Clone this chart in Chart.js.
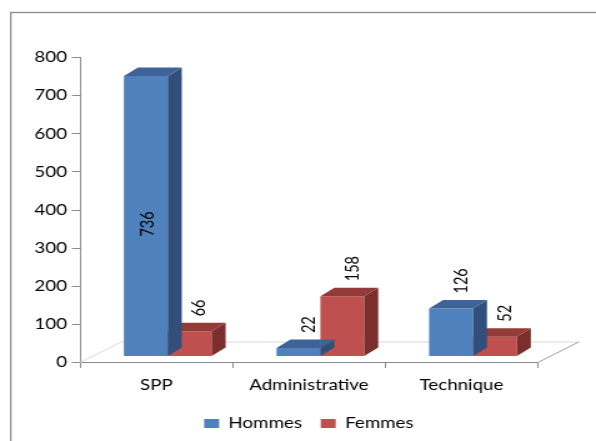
<!DOCTYPE html>
<html><head><meta charset="utf-8">
<script src="https://cdn.jsdelivr.net/npm/chart.js@4.4.1/dist/chart.umd.min.js"></script>
<style>html,body{margin:0;padding:0;background:#fff;}canvas{display:block;}</style>
</head><body>
<canvas id="c" width="477" height="441" style="width:596px;height:441px"></canvas>
<script>
// ---- data ----
const categories = ['SPP', 'Administrative', 'Technique'];
const seriesNames = ['Hommes', 'Femmes'];
const hommes = [736, 22, 126];
const femmes = [66, 158, 52];
const yMin = 0, yMax = 800, yStep = 100;

// ---- styling ----
const FONT = 'Lato';
const frontColors = ['#4F81BD', '#C0504D'];
const topColors = ['#3E6497', '#943A38'];
const sideColors = ['#314F7A', '#7A2E2D'];
// 3D offsets (canvas units; canvas is stretched 1.25x horizontally)
const DX0 = 9.2, DY0 = -6;      // bars sit a little behind the front axis plane
const BDX = 11.2, BDY = -8.5;   // bar depth
const FDX = 32.8, FDY = -20.5;  // floor depth

const threeD = {
  id: 'threeD',
  beforeDraw(chart) {
    const ctx = chart.ctx;
    ctx.save();
    ctx.strokeStyle = '#8c8c8c';
    ctx.lineWidth = 1.3;
    ctx.strokeRect(8.6, 12.5, 700, 700);
    ctx.restore();
  },
  beforeDatasetsDraw(chart) {
    const ctx = chart.ctx, a = chart.chartArea;
    ctx.save();
    ctx.lineWidth = 1;
    ctx.strokeStyle = '#d9d9d9';
    ctx.beginPath();
    ctx.moveTo(a.left, a.bottom);
    ctx.lineTo(a.left + FDX, a.bottom + FDY);
    ctx.lineTo(a.right + FDX, a.bottom + FDY);
    ctx.stroke();
    ctx.strokeStyle = '#a0a0a0';
    ctx.beginPath();
    ctx.moveTo(a.right, a.bottom);
    ctx.lineTo(a.right + FDX, a.bottom + FDY);
    ctx.stroke();
    ctx.restore();
    ctx.save();
    ctx.translate(DX0, DY0);
  },
  afterDatasetDraw(chart, args) {
    const ctx = chart.ctx, i = args.index;
    args.meta.data.forEach(bar => {
      const p = bar.getProps(['x', 'y', 'base', 'width'], true);
      const l = p.x - p.width / 2, r = p.x + p.width / 2;
      ctx.fillStyle = sideColors[i];
      ctx.beginPath();
      ctx.moveTo(r, p.y); ctx.lineTo(r + BDX, p.y + BDY);
      ctx.lineTo(r + BDX, p.base + BDY); ctx.lineTo(r, p.base);
      ctx.closePath(); ctx.fill();
      ctx.fillStyle = topColors[i];
      ctx.beginPath();
      ctx.moveTo(l, p.y); ctx.lineTo(l + BDX, p.y + BDY);
      ctx.lineTo(r + BDX, p.y + BDY); ctx.lineTo(r, p.y);
      ctx.closePath(); ctx.fill();
    });
  },
  afterDatasetsDraw(chart) {
    const ctx = chart.ctx, a = chart.chartArea;
    ctx.font = '14.5px ' + FONT;
    ctx.fillStyle = '#000';
    chart.data.datasets.forEach((ds, i) => {
      chart.getDatasetMeta(i).data.forEach((bar, j) => {
        const p = bar.getProps(['x', 'y', 'base', 'width'], true);
        const txt = String(ds.data[j]);
        const w = ctx.measureText(txt).width;
        let x = p.x + 8, yb = p.y + BDY - 6.5;
        ctx.save();
        if (yb - w < a.top) {
          x = p.x + 2;
          const yc = (p.y + p.base) / 2 + 8;
          ctx.translate(x, yc); ctx.rotate(-Math.PI / 2);
          ctx.textAlign = 'center'; ctx.textBaseline = 'middle';
          ctx.fillText(txt, 0, 0);
        } else {
          ctx.translate(x, yb); ctx.rotate(-Math.PI / 2);
          ctx.textAlign = 'left'; ctx.textBaseline = 'middle';
          ctx.fillText(txt, 0, 0);
        }
        ctx.restore();
      });
    });
    ctx.restore();
  }
};

new Chart(document.getElementById('c'), {
  type: 'bar',
  data: {
    labels: categories,
    datasets: [
      { label: seriesNames[0], data: hommes, backgroundColor: frontColors[0], borderWidth: 0, clip: false },
      { label: seriesNames[1], data: femmes, backgroundColor: frontColors[1], borderWidth: 0, clip: false }
    ]
  },
  plugins: [threeD],
  options: {
    responsive: false,
    devicePixelRatio: 1,
    animation: false,
    layout: { padding: { top: 57.5, right: 46.6, bottom: 0, left: 0 } },
    datasets: { bar: { barPercentage: 1, categoryPercentage: 0.575 } },
    plugins: {
      legend: {
        position: 'bottom',
        fullSize: false,
        labels: { font: { family: FONT, size: 15 }, color: '#000', boxWidth: 12, boxHeight: 9, padding: 15 }
      },
      tooltip: { enabled: false }
    },
    scales: {
      x: {
        afterFit: s => { s.height = 38.5; },
        grid: { offset: true, drawOnChartArea: false, drawTicks: true, tickLength: 5.5, color: '#8c8c8c' },
        border: { display: true, color: '#8c8c8c', width: 1 },
        ticks: { font: { family: FONT, size: 15 }, color: '#000', padding: 8.5, maxRotation: 0 }
      },
      y: {
        min: yMin, max: yMax,
        afterFit: s => { s.width = 64; },
        grid: { drawOnChartArea: false, drawTicks: true, tickLength: 6.4, color: '#8c8c8c' },
        border: { display: true, color: '#8c8c8c', width: 1 },
        ticks: { stepSize: yStep, font: { family: FONT, size: 15 }, color: '#000', padding: 4 }
      }
    }
  }
});
</script>
</body></html>
